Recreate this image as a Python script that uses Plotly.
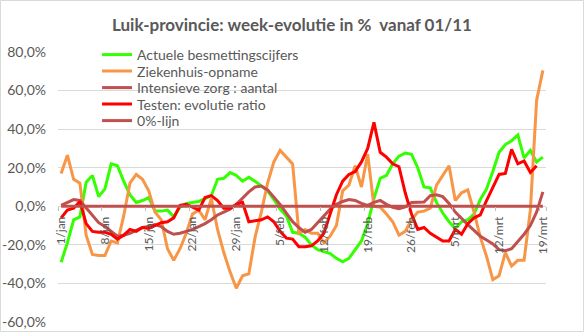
import plotly.graph_objects as go

# categories: daily dates 1/jan .. 19/mrt
months = [("jan", 31), ("feb", 28), ("mrt", 19)]
dates = [f"{d}/{m}" for m, n in months for d in range(1, n + 1)]
tick_labels = dates[::7]

actuele = [-29, -19, -7, -5.5, 12.5, 16, 5, 9, 22, 21,
           13, 6, 2, 3, 4.5, -2.5, -2.5, -2, -5.5, -0.5,
           1.5, 2, 2.5, 4, 5.5, 14, 14.5, 17.5, 16, 13,
           15, 13, 10.5, 8, 3.5, -1.5, -5, -13.5, -14, -16,
           -20, -22.5, -23.5, -24.5, -27, -28.8, -27, -22.5, -18, -9,
           4, 14.5, 16, 22, 26, 27.6, 27, 20, 10, 9.5,
           2, -3.5, -8, -11.5, -8, -7, -4, 3.5, 9, 18,
           28, 32, 34, 37, 25, 29, 23, 25.5]

ziekenhuis = [17, 26.5, 14, 12, -15, -25, -25.5, -25.5, -18, -19,
              -5, 12, 16.5, 14, 8, -3, -7, -22, -28, -22,
              -14, -4, -2, -7, 4, -12, -24, -34, -42.5, -36,
              -35, -16, -3, 12, 23, 29, 25.5, 22, -14, -12,
              -14, -14, -19, -15.5, -10, 8, 11, 21, 10, 27,
              0, -0.5, -4, -8, -15, -13, -7, -3, -2.5, -1,
              11, 16, 21, 3, 7, 8.5, -3, -16, -26, -38,
              -36, -24, -31, -28, -28, -2, 55, 70.5]

intensieve = [0.5, 2, 3.5, 3, -1, -5, -8.5, -10.5, -13, -15.5,
              -15, -14, -12.5, -11, -10.5, -9.5, -10.5, -13, -14.5, -14,
              -13, -12, -10.5, -9, -7, -4.5, -3, -1.5, 1, 4.5,
              7.5, 10, 10.5, 8.5, 5, 1, -3.5, -8, -11, -13.5,
              -12, -8.5, -5, -1.5, 1, 2.5, 3.5, 3, 1.5, 0.5,
              2, 3, 1, -0.5, -1.2, -0.3, 2, 2, 2.2, 5.5,
              6, 5, 1.5, -3, -6.5, -9.5, -12.5, -15.5, -17.5, -19.5,
              -22.5, -23, -22, -18.5, -14.5, -10, -3, 7.5]

testen = [-6, -2, -1, 2.5, -9, -13, -13.5, -13.5, -14.5, -17,
          -15, -12, -13, -11, -11.5, -10, -8.5, -8, -6, 0.5,
          1, -0.5, -2, 4.5, 5.5, 3, -1, -1, 1, 2,
          -8, -7.5, -7, -5.5, -8, -13, -16.5, -17, -21, -21,
          -20.5, -18, -14, -4, 6, 13, 16.5, 18, 23, 30,
          43.5, 28, 25.5, 22, 20.5, 7, -4, -12, -11, -14,
          -16, -18, -18, -12, -14.5, -9, -6, -4.5, 3, 9.5,
          16.5, 17, 29.5, 22, 23.5, 17.5, 21, None]

nul_lijn = [0] * len(dates)

y_ticks = [-60, -40, -20, 0, 20, 40, 60, 80]
y_ticktext = ["-60,0%", "-40,0%", "-20,0%", "0,0%", "20,0%", "40,0%", "60,0%", "80,0%"]

series = [
    ("Actuele besmettingscijfers", actuele, "#33FF00"),
    ("Ziekenhuis-opname", ziekenhuis, "#F79646"),
    ("Intensieve zorg : aantal", intensieve, "#C0504D"),
    ("Testen: evolutie ratio", testen, "#FF0000"),
    ("0%-lijn", nul_lijn, "#C0504D"),
]

FONT = "Lato"
GREY = "#595959"

# plot-area geometry (pixels)
W, H = 584, 332
L, R, T, B = 58, 38, 52, 10
PW, PH = W - L - R, H - T - B

fig = go.Figure()
legend_ids = ["legend", "legend2", "legend3", "legend4", "legend5"]
for (name, vals, col), lid in zip(series, legend_ids):
    fig.add_trace(go.Scatter(x=dates, y=vals, name=name, mode="lines", legend=lid,
                             line=dict(color=col, width=3), connectgaps=False))

y_min, y_max = -60, 80
layout_legends = {}
for i, lid in enumerate(legend_ids):
    yc = 55 + 16.5 * i  # pixel centre of legend entry
    layout_legends[lid] = dict(x=0.08, y=(H - B - yc) / PH, xanchor="left", yanchor="middle",
                               bgcolor="rgba(0,0,0,0)", borderwidth=0,
                               font=dict(size=14, color=GREY, family=FONT))

fig.update_layout(
    width=W, height=H,
    margin=dict(l=L, r=R, t=T, b=B, autoexpand=False),
    paper_bgcolor="white", plot_bgcolor="white",
    font=dict(family=FONT, color=GREY, size=13),
    title=dict(text="Luik-provincie: week-evolutie in %\u00a0 vanaf 01/11",
               x=0.5, xref="container", xanchor="center",
               y=1 - 25 / H, yref="container", yanchor="middle",
               font=dict(family=FONT, size=17, color=GREY, weight="bold")),
    showlegend=True,
    xaxis=dict(type="category", categoryorder="array", categoryarray=dates,
               anchor="free", position=(0 - y_min) / (y_max - y_min), automargin=False,
               tickmode="array", tickvals=tick_labels, ticktext=tick_labels,
               tickangle=-90, showgrid=False, showline=False, zeroline=False,
               ticks="outside", ticklen=4, tickcolor="#bfbfbf", tickson="boundaries",
               ticklabelstandoff=7,
               tickfont=dict(size=12, color=GREY), range=[-0.5, len(dates) - 0.5]),
    yaxis=dict(range=[y_min, y_max], tickmode="array", tickvals=y_ticks, automargin=False,
               ticktext=y_ticktext, showgrid=True, gridcolor="#d9d9d9", gridwidth=1,
               zeroline=False, showline=False, ticks="",
               tickfont=dict(size=14, color=GREY), ticklabelstandoff=11),
    **layout_legends,
)

# chart-area border (1 px inside the page edge)
fig.add_shape(type="rect", xref="paper", yref="paper",
              x0=(0.5 - L) / PW, x1=(W - 0.5 - L) / PW,
              y0=(0.5 - B) / PH, y1=(H - B - 0.5) / PH,
              line=dict(color="#d9d9d9", width=1), layer="below")

fig.write_html("out.html")
